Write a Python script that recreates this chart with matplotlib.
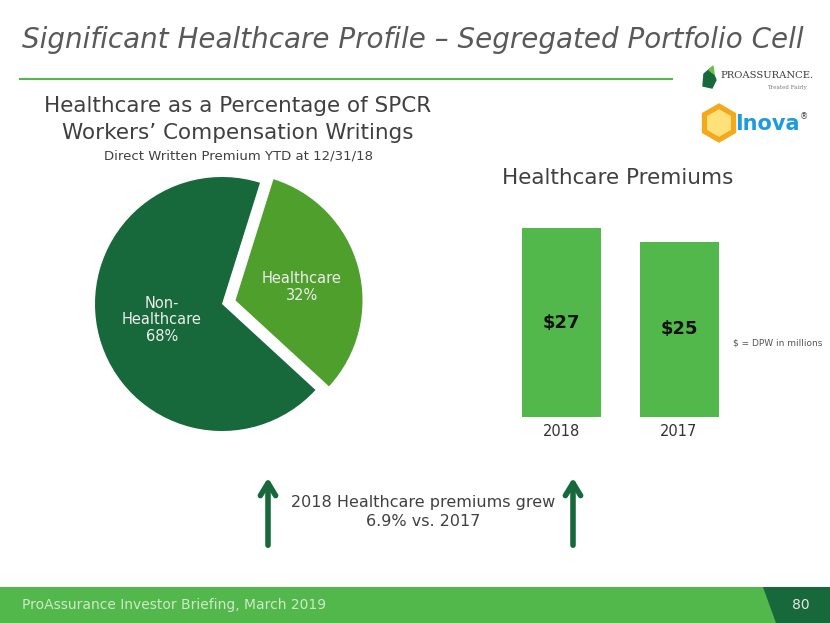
import matplotlib
matplotlib.use("Agg")
import matplotlib.pyplot as plt
from matplotlib.patches import Rectangle, Polygon, RegularPolygon

# data
pie_labels = ["Healthcare\n32%", "Non-\nHealthcare\n68%"]
pie_values = [32, 68]
bar_years = ["2018", "2017"]
bar_values = [27, 25]

dark_green = "#17683a"
mid_green = "#4f9f2c"
bar_green = "#52b84c"
gray = "#595959"

W, H = 830, 623
fig = plt.figure(figsize=(8.3, 6.23), dpi=100)

# overlay axes in pixel coords (kept on top of the chart axes)
ov = fig.add_axes([0, 0, 1, 1])
ov.set_xlim(0, W)
ov.set_ylim(H, 0)
ov.axis("off")
ov.set_zorder(10)

ov.text(22, 40, "Significant Healthcare Profile \u2013 Segregated Portfolio Cell",
        fontsize=20, style="italic", color=gray, va="center", ha="left")
ov.plot([20, 672], [79, 79], color=bar_green, lw=1.5)

# ProAssurance logo (approximate)
ov.add_patch(Polygon([[704, 74], [711, 68], [716, 80], [712, 88], [703, 86]],
                     closed=True, color=dark_green))
ov.add_patch(Polygon([[709, 70], [713, 66], [714, 74]], closed=True, color="#6cc04a"))
ov.text(720, 76, "PROASSURANCE.", fontsize=7.2, family="DejaVu Serif",
        color="#3a3a3a", va="center", ha="left")
ov.text(807, 88, "Treated Fairly", fontsize=4, family="DejaVu Serif",
        color="#777777", va="center", ha="right")

# inova logo (approximate)
ov.add_patch(RegularPolygon((719, 123), numVertices=6, radius=19, orientation=0,
                            color="#f4a81c"))
ov.add_patch(RegularPolygon((719, 123), numVertices=6, radius=13, orientation=0,
                            color="#fde27a"))
ov.text(735, 124, "Inova", fontsize=15, fontweight="bold", color="#1e9be0",
        va="center", ha="left")
ov.text(800, 117, "\u00ae", fontsize=6, color="#444444", va="center", ha="left")

# pie headings
ov.text(238, 106, "Healthcare as a Percentage of SPCR", fontsize=15.5,
        color="#404040", ha="center", va="center")
ov.text(238, 133, "Workers\u2019 Compensation Writings", fontsize=15.5,
        color="#404040", ha="center", va="center")
ov.text(238, 156, "Direct Written Premium YTD at 12/31/18", fontsize=9.5,
        color="#404040", ha="center", va="center")

# pie
r = 127
cx, cy = 222, 304
size = 2.6 * r
pax = fig.add_axes([(cx - size / 2) / W, (H - cy - size / 2) / H, size / W, size / H])
wedges, _ = pax.pie(pie_values, colors=[mid_green, dark_green], startangle=-42.6,
                    explode=[0.11, 0], radius=1,
                    wedgeprops=dict(linewidth=0))
pax.set_xlim(-1.3, 1.3)
pax.set_ylim(-1.3, 1.3)
pax.set_aspect("equal")
pax.axis("off")
ov.text(302, 287, pie_labels[0], fontsize=10.5, color="#eeeeee",
        ha="center", va="center", linespacing=1.15)
ov.text(162, 320, pie_labels[1], fontsize=10.5, color="#eeeeee",
        ha="center", va="center", linespacing=1.15)

# bars
ov.text(502, 178, "Healthcare Premiums", fontsize=15.5, color="#404040",
        ha="left", va="center")
bx0, bx1 = 561.5, 679
unit = (bx1 - bx0)
bax = fig.add_axes([(bx0 - unit / 2) / W, (H - 417) / H, 2 * unit / W, 210 / H])
xs = range(len(bar_values))
bax.bar(xs, bar_values, width=79 / unit, color=bar_green)
bax.set_xlim(-0.5, 1.5)
bax.set_ylim(0, 30)
bax.axis("off")
for x, v, yr in zip(xs, bar_values, bar_years):
    bax.text(x, v / 2, "$%d" % v, fontsize=13, fontweight="bold", color="#111111",
             ha="center", va="center")
    bax.text(x, -2.1, yr, fontsize=10.5, color="#333333", ha="center", va="center")
ov.text(733, 343, "$ = DPW in millions", fontsize=6.5, color="#555555",
        ha="left", va="center")

# arrows + growth note
for ax_x in (268, 573):
    ov.annotate("", xy=(ax_x, 475), xytext=(ax_x, 548),
                arrowprops=dict(arrowstyle="->,head_length=0.9,head_width=0.55",
                                color=dark_green, lw=4))
ov.text(423, 502, "2018 Healthcare premiums grew", fontsize=11.5, color="#404040",
        ha="center", va="center")
ov.text(423, 521, "6.9% vs. 2017", fontsize=11.5, color="#404040",
        ha="center", va="center")

# footer
ov.add_patch(Rectangle((0, 587), W, H - 587, color=bar_green, lw=0))
ov.add_patch(Polygon([[763, 587], [W, 587], [W, H], [776, H]], closed=True,
                     color=dark_green, lw=0))
ov.text(22, 605, "ProAssurance Investor Briefing, March 2019", fontsize=10,
        color="#cfe9c6", ha="left", va="center")
ov.text(801, 605, "80", fontsize=10, color="#e6e6e6", ha="center", va="center")

fig.savefig("out.png", dpi=100)
